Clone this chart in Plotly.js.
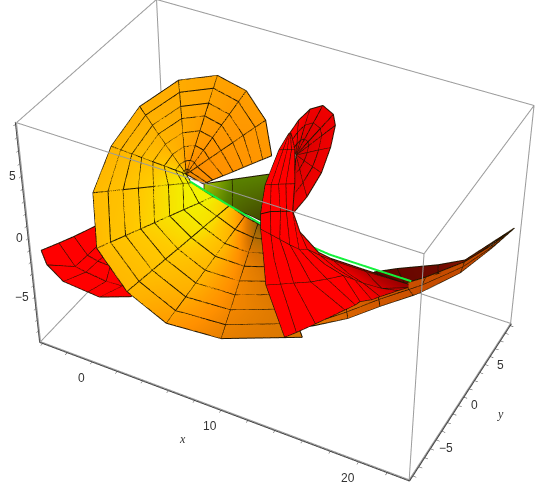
<!DOCTYPE html>
<html>
<head>
<script src="https://cdn.plot.ly/plotly-3.0.1.min.js"></script>
<style>html,body{margin:0;padding:0;background:#fff;overflow:hidden;width:550px;height:489px}</style>
</head>
<body>
<div id="plot" style="position:absolute;left:-548px;top:-505px;width:1650px;height:1467px"></div>
<script>
let xBox = [-4.2, 23.5]
let yBox = [-9.5, 9.2]
let zBox = [-9, 9.1]

let xTicks = [-4, -2, 0, 2, 4, 6, 8, 10, 12, 14, 16, 18, 20, 22]
let yTicks = [-9, -8, -7, -6, -5, -4, -3, -2, -1, 0, 1, 2, 3, 4, 5, 6, 7, 8, 9]
let zTicks = [-8, -7, -6, -5, -4, -3, -2, -1, 0, 1, 2, 3, 4, 5, 6, 7, 8, 9]
let xLabelled = [0, 10, 20]
let yLabelled = [-5, 0, 5]
let zLabelled = [-5, 0, 5]

// big orange fan, one list per spoke, from the axis out to the rim
let discX = [
    [4.04, 4.24, 4.59, 5.19, 5.78, 6.37, 6.88, 7.48, 7.99],
    [2.75, 2.95, 3.32, 3.93, 4.54, 5.15, 5.68, 6.29, 6.82],
    [2.75, 2.86, 3.05, 3.37, 3.69, 4.01, 4.29, 4.61, 4.89],
    [2.75, 2.75, 2.74, 2.74, 2.73, 2.73, 2.72, 2.72, 2.71],
    [2.75, 2.62, 2.40, 2.02, 1.64, 1.26, 0.93, 0.55, 0.22],
    [2.75, 2.51, 2.07, 1.34, 0.61, -0.12, -0.75, -1.48, -2.11],
    [2.75, 2.46, 1.93, 1.05, 0.17, -0.71, -1.47, -2.35, -3.11],
    [3.10, 2.92, 2.61, 1.70, 0.78, -0.16, -1.11, -2.05, -3.00],
    [4.77, 3.99, 3.13, 2.35, 1.50, 0.72, -0.14, -0.99, -1.77],
    [6.00, 5.41, 4.76, 4.17, 3.53, 2.93, 2.29, 1.64, 1.05],
    [7.15, 6.78, 6.38, 6.00, 5.60, 5.23, 4.83, 4.42, 4.05],
    [8.15, 8.17, 8.19, 8.20, 8.22, 8.24, 8.26, 8.27, 8.29],
    [8.60, 9.28, 10.02, 10.70, 11.44, 12.12, 12.86, 13.60, 14.28]
]
let discY = [
    [0, 0.13, 0.35, 0.73, 1.1, 1.48, 1.8, 2.18, 2.5],
    [0, 0.2, 0.56, 1.16, 1.76, 2.36, 2.88, 3.48, 4],
    [0, 0.25, 0.7, 1.45, 2.2, 2.95, 3.6, 4.35, 5],
    [0, 0.25, 0.7, 1.45, 2.2, 2.95, 3.6, 4.35, 5],
    [0, 0.2, 0.56, 1.16, 1.76, 2.36, 2.88, 3.48, 4],
    [0, 0.13, 0.35, 0.73, 1.1, 1.48, 1.8, 2.18, 2.5],
    [0, 0, 0, 0, 0, 0, 0, 0, 0],
    [0, -0.09, -0.24, -0.69, -1.14, -1.6, -2.07, -2.54, -3],
    [0, -0.6, -1.25, -1.85, -2.5, -3.1, -3.75, -4.4, -5],
    [0, -0.72, -1.5, -2.22, -3, -3.72, -4.5, -5.28, -6],
    [0, -0.72, -1.5, -2.22, -3, -3.72, -4.5, -5.28, -6],
    [0, -0.72, -1.5, -2.22, -3, -3.72, -4.5, -5.28, -6],
    [0, -0.72, -1.5, -2.22, -3, -3.72, -4.5, -5.28, -6]
]
let discZ = [
    [1.65, 1.76, 1.96, 2.29, 2.61, 2.94, 3.23, 3.56, 3.84],
    [2.00, 2.17, 2.48, 3.00, 3.52, 4.04, 4.49, 5.01, 5.46],
    [2.00, 2.23, 2.65, 3.35, 4.04, 4.74, 5.34, 6.04, 6.64],
    [2.00, 2.26, 2.73, 3.51, 4.28, 5.06, 5.74, 6.52, 7.19],
    [2.00, 2.23, 2.64, 3.33, 4.01, 4.70, 5.29, 5.98, 6.57],
    [2.00, 2.13, 2.35, 2.73, 3.11, 3.49, 3.82, 4.20, 4.53],
    [2.00, 2.02, 2.05, 2.10, 2.15, 2.19, 2.24, 2.29, 2.33],
    [1.43, 1.39, 1.33, 1.16, 0.98, 0.79, 0.61, 0.42, 0.24],
    [0.85, 0.41, -0.06, -0.50, -0.98, -1.41, -1.89, -2.36, -2.80],
    [0.55, -0.09, -0.79, -1.43, -2.13, -2.77, -3.47, -4.17, -4.81],
    [0.05, -0.72, -1.56, -2.34, -3.18, -3.95, -4.79, -5.63, -6.40],
    [-0.20, -0.90, -1.65, -2.35, -3.10, -3.80, -4.56, -5.31, -6.01],
    [-0.33, -0.70, -1.10, -1.47, -1.88, -2.25, -2.65, -3.05, -3.42]
]
let discShade = [
    [0.5, 0.52, 0.54, 0.56, 0.56, 0.57, 0.57, 0.58, 0.58],
    [0.5, 0.52, 0.54, 0.56, 0.57, 0.58, 0.58, 0.59, 0.6],
    [0.5, 0.52, 0.54, 0.57, 0.58, 0.6, 0.6, 0.6, 0.62],
    [0.52, 0.54, 0.56, 0.6, 0.62, 0.62, 0.64, 0.64, 0.64],
    [0.6, 0.6, 0.62, 0.66, 0.68, 0.68, 0.68, 0.68, 0.68],
    [0.85, 0.82, 0.78, 0.74, 0.72, 0.72, 0.72, 0.7, 0.7],
    [0.98, 0.95, 0.9, 0.85, 0.8, 0.78, 0.76, 0.74, 0.72],
    [1, 1, 0.98, 0.94, 0.88, 0.84, 0.8, 0.78, 0.76],
    [1, 1, 0.98, 0.94, 0.9, 0.86, 0.82, 0.8, 0.76],
    [0.82, 0.92, 0.95, 0.92, 0.86, 0.82, 0.8, 0.76, 0.74],
    [0.5, 0.68, 0.76, 0.76, 0.74, 0.72, 0.68, 0.64, 0.6],
    [0.14, 0.28, 0.42, 0.48, 0.5, 0.5, 0.5, 0.48, 0.46],
    [0.1, 0.2, 0.3, 0.35, 0.38, 0.38, 0.4, 0.4, 0.4]
]

// olive wedge behind the green axis
let wedgeX = [[3.83, 6.01, 8.75], [3.83, 6.01, 8.82]]
let wedgeY = [[0.5, 0.5, 0.5], [0.5, 0.5, 0.5]]
let wedgeZ = [[1.29, 2.41, 3.77], [0.86, 0.12, -0.36]]
let wedgeShade = [[1, 0.5, 0.5], [0.9, 0.35, 0]]

// red sheet in front, rows run from the upper edge to the lower edge
let sheetX = [
    [12.30, 12.98, 13.65, 14.05, 14.46, 14.95, 16.20, 17.04, 19.17, 22.12],
    [12.30, 13.00, 13.61, 14.29, 14.92, 15.47, 16.34, 17.25, 19.37, 22.12],
    [12.48, 13.22, 14.12, 15.02, 15.83, 16.64, 17.39, 18.23, 19.93, 22.12],
    [12.63, 13.67, 14.57, 15.73, 16.82, 17.89, 18.65, 19.21, 20.45, 22.12],
    [13.95, 14.79, 16.10, 18.07, 18.75, 19.06, 19.82, 20.35, 21.48, 22.12]
]
let sheetY = [
    [-8, -8, -8, -8, -8, -8, -8, -8, -8, -8],
    [-8, -8, -8, -8, -8, -8, -8, -8, -8, -8],
    [-8, -8, -8, -8, -8, -8, -8, -8, -8, -8],
    [-8, -8, -8, -8, -8, -8, -8, -8, -8, -8],
    [-8, -8, -8, -8, -8, -8, -8, -8, -8, -8]
]
let sheetZ = [
    [6.99, 7.41, 7.66, 7.81, 7.97, 6.60, 5.52, 5.36, 5.35, 5.35],
    [5.85, 5.69, 5.54, 5.38, 5.28, 5.49, 5.33, 5.27, 5.26, 5.35],
    [3.78, 3.89, 4.08, 4.25, 4.48, 4.79, 4.77, 4.68, 4.76, 5.11],
    [1.61, 2.09, 2.52, 3.06, 3.71, 4.39, 4.36, 4.32, 4.39, 5.11],
    [-2.13, -1.39, -0.14, 1.77, 2.44, 2.82, 3.27, 3.72, 4.63, 5.11]
]
let sheetShade = [
    [1, 1, 1, 1, 1, 0.98, 0.85, 0.75, 0.5, 0.3],
    [1, 1, 1, 1, 1, 1, 0.9, 0.78, 0.5, 0.3],
    [1, 1, 1, 1, 1, 1, 0.95, 0.85, 0.6, 0.3],
    [1, 1, 1, 1, 1, 1, 0.95, 0.85, 0.65, 0.35],
    [1, 1, 1, 1, 1, 1, 0.95, 0.85, 0.7, 0.4]
]

// neck of the red sheet going up to the small curl
let neckX = [
    [10.90, 10.93, 10.97, 11.00, 11.04],
    [11.15, 11.45, 11.74, 12.03, 12.25],
    [11.64, 12.06, 12.57, 13.07, 13.65],
    [12.30, 12.98, 13.65, 14.05, 14.46]
]
let neckY = [
    [-1, -1, -1, -1, -1],
    [-3, -3, -3, -3, -3],
    [-6, -6, -6, -6, -6],
    [-8, -8, -8, -8, -8]
]
let neckZ = [
    [8.51, 8.53, 8.54, 8.55, 8.56],
    [8.46, 8.57, 8.68, 8.79, 8.87],
    [7.73, 7.90, 8.10, 8.29, 8.51],
    [6.99, 7.41, 7.66, 7.81, 7.97]
]
let neckShade = [[1, 1, 1, 1, 1], [1, 1, 1, 1, 1], [1, 1, 1, 1, 1], [1, 1, 1, 1, 1]]

// small curl at the top, rows from its centre to the rim
let curlX = [
    [9.57, 9.57, 9.57, 9.57, 9.57, 9.57, 9.57, 9.57, 9.57, 9.57],
    [9.40, 9.63, 9.89, 10.18, 10.43, 10.49, 10.39, 10.17, 9.84, 9.48],
    [9.22, 9.67, 10.20, 10.80, 11.30, 11.41, 11.21, 10.79, 10.10, 9.42],
    [9.06, 9.72, 10.54, 11.44, 12.19, 12.35, 12.05, 11.43, 10.40, 9.33]
]
let curlY = [
    [3, 3, 3, 3, 3, 3, 3, 3, 3, 3],
    [3, 3, 3, 3, 3, 3, 3, 3, 3, 3],
    [3, 3, 3, 3, 3, 3, 3, 3, 3, 3],
    [3, 3, 3, 3, 3, 3, 3, 3, 3, 3]
]
let curlZ = [
    [4.16, 4.16, 4.16, 4.16, 4.16, 4.16, 4.16, 4.16, 4.16, 4.16],
    [4.67, 5.08, 5.45, 5.63, 5.49, 5.23, 4.64, 3.90, 3.13, 2.54],
    [5.17, 6.00, 6.74, 7.10, 6.82, 6.30, 5.11, 3.63, 2.10, 0.90],
    [5.68, 6.94, 8.06, 8.62, 8.18, 7.39, 5.59, 3.35, 1.04, -0.78]
]
let curlShade = [
    [0.7, 0.7, 0.7, 0.7, 0.7, 0.7, 0.7, 0.7, 0.7, 0.7],
    [0.95, 0.85, 0.78, 0.78, 0.78, 0.78, 0.78, 0.78, 0.78, 0.78],
    [1, 0.95, 0.85, 0.85, 0.85, 0.85, 0.85, 0.85, 0.85, 0.85],
    [1, 1, 0.9, 0.9, 0.9, 0.9, 0.9, 0.9, 0.9, 0.9]
]

// orange underside running out to the tip, one list per section
let tailX = [
    [10.53, 10.53, 10.53],
    [11.13, 11.67, 12.28],
    [14.10, 14.21, 14.30],
    [16.02, 16.12, 16.24],
    [17.55, 17.89, 18.22],
    [18.82, 18.63, 18.53],
    [20.96, 20.86, 20.75],
    [22.47, 22.48, 22.48],
    [23.27, 23.27, 23.27]
]
let tailY = [
    [0, 0, 0],
    [0.5, 0.5, 0.5],
    [1.5, 1.5, 1.5],
    [2.5, 2.5, 2.5],
    [3.5, 3.5, 3.5],
    [4, 4, 4],
    [5.5, 5.5, 5.5],
    [6.5, 6.5, 6.5],
    [8.5, 8.5, 8.5]
]
let tailZ = [
    [-8.50, -8.50, -8.50],
    [-8.17, -7.97, -7.74],
    [-5.87, -6.42, -6.97],
    [-4.70, -5.24, -5.80],
    [-3.95, -4.34, -4.73],
    [-3.27, -3.99, -4.70],
    [-2.11, -2.57, -3.11],
    [-0.75, -0.91, -0.99],
    [-0.30, -0.30, -0.30]
]
let tailShade = [
    [1, 1, 1],
    [1, 1, 1],
    [0.75, 0.75, 0.75],
    [0.6, 0.6, 0.6],
    [0.5, 0.5, 0.5],
    [0.45, 0.45, 0.45],
    [0.4, 0.4, 0.4],
    [0.3, 0.3, 0.3],
    [0.1, 0.1, 0.1]
]

// dark red strip above the tail
let stripX = [[15.48, 15.49], [16.96, 17.55], [19.49, 19.53], [20.85, 20.86], [23.27, 23.27]]
let stripY = [[3, 3], [3.5, 3.5], [4.5, 4.5], [6, 6], [8.5, 8.5]]
let stripZ = [[-3.45, -3.69], [-2.91, -3.95], [-2.27, -3.00], [-2.31, -2.48], [-0.30, -0.30]]
let stripShade = [[0, 0], [0.2, 0.2], [0.3, 0.3], [0.6, 0.6], [1, 1]]

// red flap on the left, behind the fan
let flapX = [
    [-3.61, -3.60, -3.55, -3.23, -2.96, -1.05],
    [-3.41, -3.32, -3.23, -2.94, -2.05, -1.29],
    [-3.19, -3.12, -3.01, -2.68, -1.86, -1.27],
    [-2.87, -2.95, -2.76, -1.95, -1.08, -0.73]
]
let flapY = [
    [-9.1, -8.6, -6.9, -4.4, -3.3, -2],
    [-7.2, -5.6, -4.4, -2.3, -1.5, -1.5],
    [-5.6, -4.2, -3.1, -2, -1.5, -1.5],
    [-3.1, -2.7, -1.5, -1.5, -1.5, -1.5]
]
let flapZ = [
    [-1.06, -2.59, -5.11, -7.59, -8.69, -8.77],
    [-1.57, -4.56, -5.80, -7.90, -8.51, -8.56],
    [-1.94, -4.41, -5.59, -6.60, -7.50, -7.69],
    [-2.44, -4.24, -5.54, -6.08, -6.76, -7.31]
]
let flapShade = [[1, 1, 1, 1, 1, 1], [1, 1, 1, 1, 1, 1], [1, 1, 1, 1, 1, 1], [1, 1, 1, 1, 1, 1]]

// bright green axis segment
let axisX = [3.56, 6.15, 8.69, 11.56, 13.92, 16.90, 19.68]
let axisY = [-1, -1, -1, -1, -1, -1, -1]
let axisZ = [2.28, 1.44, 0.72, 0.28, 0.00, 0.00, 0.02]

let discScale = [[0, '#5c3c08'], [0.2, '#a06808'], [0.4, '#d87400'], [0.55, '#ff9000'], [0.7, '#ffb000'], [0.85, '#ffca00'], [1, '#f2f200']]
let redScale = [[0, '#6a0000'], [1, '#ff0000']]
let wedgeScale = [[0, '#3e3a00'], [0.5, '#5a8200'], [1, '#a8c800']]
let tailScale = [[0, '#a03000'], [0.5, '#cc5000'], [1, '#e67800']]
let stripScale = [[0, '#5a0000'], [1, '#a02000']]

/**
 * one patch of the shell, flat shaded from its own shade table
 */
let patch = (x, y, z, shade, scale) => ({
    type: 'surface', x: x, y: y, z: z, surfacecolor: shade, colorscale: scale, cmin: 0, cmax: 1,
    showscale: false, hoverinfo: 'skip',
    lighting: {ambient: 1, diffuse: 0, specular: 0, roughness: 1, fresnel: 0}
})

/**
 * black mesh drawn along the rows and columns of a patch
 */
let mesh = (x, y, z, skipRows = [], skipCols = []) => {
    let lx = [], ly = [], lz = []
    let rows = x.length, cols = x[0].length
    for (let i = 0; i < rows; i++) {
        if (skipRows.includes(i)) continue
        for (let j = 0; j < cols; j++) { lx.push(x[i][j]); ly.push(y[i][j]); lz.push(z[i][j]) }
        lx.push(null); ly.push(null); lz.push(null)
    }
    for (let j = 0; j < cols; j++) {
        if (skipCols.includes(j)) continue
        for (let i = 0; i < rows; i++) { lx.push(x[i][j]); ly.push(y[i][j]); lz.push(z[i][j]) }
        lx.push(null); ly.push(null); lz.push(null)
    }
    return {
        type: 'scatter3d', mode: 'lines', x: lx, y: ly, z: lz, hoverinfo: 'skip', showlegend: false,
        line: {color: '#1e1400', width: 2}
    }
}

let boxEdges = () => {
    let [a, b] = xBox, [c, d] = yBox, [e, f] = zBox
    return {
        type: 'scatter3d', mode: 'lines', hoverinfo: 'skip', showlegend: false,
        line: {color: '#9a9a9a', width: 2},
        x: [a, b, b, a, a, null, a, b, b, a, a, null, a, a, null, b, b, null, b, b, null, a, a],
        y: [c, c, d, d, c, null, c, c, d, d, c, null, c, c, null, c, c, null, d, d, null, d, d],
        z: [e, e, e, e, e, null, f, f, f, f, f, null, e, f, null, e, f, null, e, f, null, e, f]
    }
}

let axisStyle = (ticks, box) => ({
    range: [box[0] - 0.05, box[1] + 0.05], autorange: false, tickmode: 'array', tickvals: ticks, showticklabels: false,
    showgrid: false, zeroline: false, showbackground: false, showline: true, linecolor: '#444', linewidth: 2,
    ticks: 'outside', ticklen: 3, tickcolor: '#444', tickwidth: 1, title: {text: ''}, showspikes: false
})

// tick labels and axis names sit a little off the box, as in the picture
let label = (x, y, z, text, dx, dy, serif) => ({
    x: x, y: y, z: z, text: text, showarrow: false, xanchor: 'center', yanchor: 'middle', xshift: dx, yshift: dy,
    font: {family: serif ? 'Liberation Serif' : 'Liberation Sans', size: 12, color: '#333'}
})
let tickText = v => (v < 0 ? '\u2212' : '') + Math.abs(v)

let annotations = [
    ...xLabelled.map(v => label(v, yBox[0], zBox[0], tickText(v), -11, -17)),
    ...yLabelled.map(v => label(xBox[1], v, zBox[0], tickText(v), 11, -9)),
    ...zLabelled.map(v => label(xBox[0], yBox[0], v, tickText(v), v < 0 ? -14 : -10, 0)),
    label(8, yBox[0], zBox[0], '<i>x</i>', -12, -40, true),
    label(xBox[1], 0, zBox[0], '<i>y</i>', 37, -18, true)
]

let layout = {
    width: 1650, height: 1467, margin: {l: 0, r: 0, t: 0, b: 0}, paper_bgcolor: '#fff', showlegend: false,
    scene: {
        domain: {x: [0, 1], y: [0, 1]},
        aspectmode: 'manual', aspectratio: {x: 2.51, y: 1.53, z: 1.65},
        camera: {eye: {x: 3.88, y: -7.31, z: 6.47}, center: {x: 0, y: 0, z: 0}, up: {x: 0, y: 0, z: 1}},
        xaxis: axisStyle(xTicks, xBox),
        yaxis: axisStyle(yTicks, yBox),
        zaxis: axisStyle(zTicks, zBox),
        annotations: annotations
    }
}

let traces = [
    boxEdges(),
    patch(flapX, flapY, flapZ, flapShade, redScale), mesh(flapX, flapY, flapZ),
    patch(discX, discY, discZ, discShade, discScale), mesh(discX, discY, discZ),
    patch(wedgeX, wedgeY, wedgeZ, wedgeShade, wedgeScale), mesh(wedgeX, wedgeY, wedgeZ),
    patch(tailX, tailY, tailZ, tailShade, tailScale), mesh(tailX, tailY, tailZ),
    patch(stripX, stripY, stripZ, stripShade, stripScale), mesh(stripX, stripY, stripZ),
    patch(curlX, curlY, curlZ, curlShade, redScale), mesh(curlX, curlY, curlZ),
    patch(neckX, neckY, neckZ, neckShade, redScale), mesh(neckX, neckY, neckZ),
    patch(sheetX, sheetY, sheetZ, sheetShade, redScale), mesh(sheetX, sheetY, sheetZ, [2], [9]),
    {type: 'scatter3d', mode: 'lines', x: axisX, y: axisY, z: axisZ, hoverinfo: 'skip', showlegend: false, line: {color: '#14f03c', width: 4}}
]

Plotly.newPlot('plot', traces, layout, {displayModeBar: false})
</script>
</body>
</html>
